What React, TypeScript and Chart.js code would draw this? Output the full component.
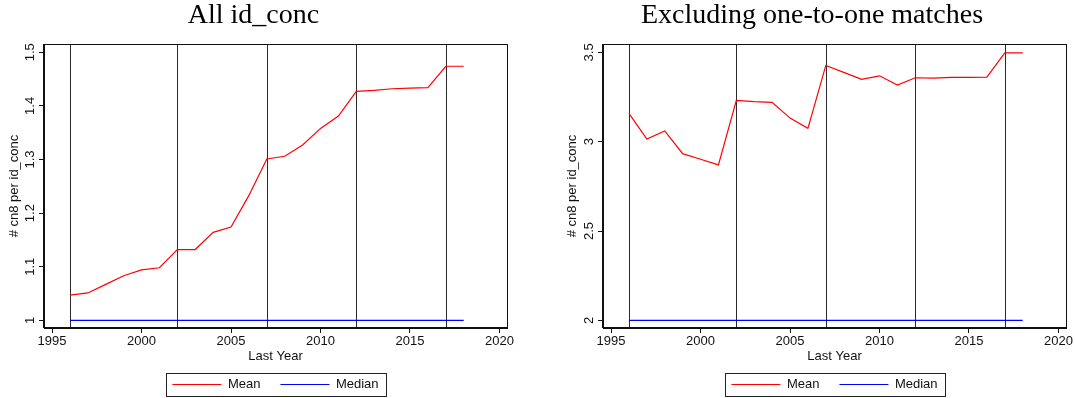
import React, { useEffect, useRef } from 'react';
import { Chart, registerables } from 'chart.js';

Chart.register(...registerables);

// ---------- data ----------
const years = [1996, 1997, 1998, 1999, 2000, 2001, 2002, 2003, 2004, 2005, 2006, 2007, 2008, 2009, 2010, 2011, 2012, 2013, 2014, 2015, 2016, 2017, 2018];

const meanAll = [1.047, 1.051, 1.067, 1.083, 1.094, 1.098, 1.132, 1.132, 1.164, 1.174, 1.233, 1.301, 1.306, 1.327, 1.358, 1.381, 1.427, 1.429, 1.432, 1.433, 1.434, 1.474, 1.474];
const medianAll = [1, 1, 1, 1, 1, 1, 1, 1, 1, 1, 1, 1, 1, 1, 1, 1, 1, 1, 1, 1, 1, 1, 1];

const meanExcl = [3.159, 3.015, 3.06, 2.933, 2.902, 2.87, 3.231, 3.224, 3.22, 3.132, 3.075, 3.427, 3.388, 3.349, 3.369, 3.317, 3.358, 3.356, 3.36, 3.36, 3.361, 3.497, 3.497];
const medianExcl = [2, 2, 2, 2, 2, 2, 2, 2, 2, 2, 2, 2, 2, 2, 2, 2, 2, 2, 2, 2, 2, 2, 2];

const refYears = [1996, 2002, 2007, 2012, 2017];

const xTickValues = [1995, 2000, 2005, 2010, 2015, 2020];
const yTicksAll = [1, 1.1, 1.2, 1.3, 1.4, 1.5];
const yTicksExcl = [2, 2.5, 3, 3.5];

const seriesNames = ['Mean', 'Median'];
const titles = ['All id_conc', 'Excluding one-to-one matches'];
const xTitle = 'Last Year';
const yTitle = '# cn8 per id_conc';

// ---------- helpers ----------
const SANS = "'Liberation Sans', Arial, Helvetica, sans-serif";
const SERIF = "'Liberation Serif', 'Times New Roman', serif";
const TXT = '#111';

const toPoints = (vals: number[]) => years.map((yr, i) => ({ x: yr, y: vals[i] }));

const framePlugin = {
  id: 'stataFrame',
  beforeDatasetsDraw(chart: any, _args: any, opts: any) {
    const { ctx, chartArea: a, scales } = chart;
    const xs = scales.x;
    ctx.save();
    ctx.lineWidth = 1;
    ctx.strokeStyle = '#2a2a2a';
    (opts.refYears || []).forEach((yr: number) => {
      const px = Math.round(xs.getPixelForValue(yr)) + 0.5;
      ctx.beginPath();
      ctx.moveTo(px, a.top);
      ctx.lineTo(px, a.bottom);
      ctx.stroke();
    });
    ctx.restore();
  },
  afterDraw(chart: any) {
    const { ctx, chartArea: a } = chart;
    ctx.save();
    ctx.lineWidth = 1;
    ctx.strokeStyle = '#111';
    ctx.strokeRect(Math.round(a.left) - 0.5, Math.round(a.top) + 0.5, Math.round(a.right - a.left) + 1, Math.round(a.bottom - a.top) - 1);
    // legend outline
    const lg = chart.legend;
    if (lg && lg.legendHitBoxes && lg.legendHitBoxes.length) {
      const hb = lg.legendHitBoxes;
      const first = hb[0];
      const last = hb[hb.length - 1];
      const l = Math.round(first.left - 6) + 0.5;
      const r = Math.round(last.left + last.width + 7) + 0.5;
      const t = Math.round(first.top - 5) + 0.5;
      const b = Math.round(first.top + first.height + 5) + 0.5;
      ctx.strokeStyle = '#222';
      ctx.strokeRect(l, t, r - l, b - t);
    }
    ctx.restore();
  },
};

interface PanelProps {
  left: number;
  width: number;
  yAxisWidth: number;
  title: string;
  mean: number[];
  median: number[];
  yMin: number;
  yMax: number;
  yTicks: number[];
}

function Panel({ left, width, yAxisWidth, title, mean, median, yMin, yMax, yTicks }: PanelProps) {
  const ref = useRef<HTMLCanvasElement | null>(null);

  useEffect(() => {
    if (!ref.current) return;
    const font = { family: SANS, size: 13 };
    const chart = new Chart(ref.current, {
      type: 'line',
      data: {
        datasets: [
          {
            label: seriesNames[0],
            data: toPoints(mean),
            borderColor: '#ff0000',
            backgroundColor: '#ff0000',
            borderWidth: 1.2,
            pointRadius: 0,
            tension: 0,
            fill: false,
          },
          {
            label: seriesNames[1],
            data: toPoints(median),
            borderColor: '#0000ff',
            backgroundColor: '#0000ff',
            borderWidth: 1.2,
            pointRadius: 0,
            tension: 0,
            fill: false,
          },
        ],
      },
      options: {
        responsive: false,
        animation: false,
        devicePixelRatio: 1,
        layout: { padding: { left: 0, right: 9, top: 0, bottom: 0 } },
        plugins: {
          title: {
            display: true,
            text: title,
            color: '#000',
            font: { family: SERIF, size: 28, weight: 'normal', lineHeight: 1 },
            padding: { top: 1.5, bottom: 14.5 },
          },
          legend: {
            display: true,
            position: 'bottom',
            fullSize: false,
            labels: {
              usePointStyle: true,
              pointStyle: 'line',
              pointStyleWidth: 49,
              padding: 20,
              color: TXT,
              font,
            },
          },
          tooltip: { enabled: false },
          stataFrame: { refYears },
        } as any,
        scales: {
          x: {
            type: 'linear',
            min: 1994.55,
            max: 2020.42,
            afterBuildTicks: (s: any) => {
              s.ticks = xTickValues.map((v) => ({ value: v }));
            },
            afterFit: (s: any) => {
              s.height = 30;
            },
            ticks: {
              autoSkip: false,
              maxRotation: 0,
              minRotation: 0,
              padding: 1,
              color: TXT,
              font,
              callback: (v: any) => String(v),
            },
            grid: { display: true, drawOnChartArea: false, drawTicks: true, tickLength: 5, color: '#111', lineWidth: 1 },
            border: { display: true, color: '#111', width: 1 },
            title: { display: true, text: xTitle, color: TXT, font, padding: { top: 0, bottom: -6 } },
          },
          y: {
            type: 'linear',
            min: yMin,
            max: yMax,
            afterBuildTicks: (s: any) => {
              s.ticks = yTicks.map((v) => ({ value: v }));
            },
            afterFit: (s: any) => {
              s.width = yAxisWidth;
            },
            ticks: {
              minRotation: 90,
              maxRotation: 90,
              crossAlign: 'center',
              padding: 0,
              color: TXT,
              font,
              callback: (v: any) => String(v),
            },
            grid: { display: true, drawOnChartArea: false, drawTicks: true, tickLength: 5, color: '#111', lineWidth: 1 },
            border: { display: true, color: '#111', width: 1 },
            title: { display: true, text: yTitle, color: TXT, font, padding: { top: 6.5, bottom: 0 } },
          },
        },
      } as any,
      plugins: [framePlugin as any],
    });
    return () => chart.destroy();
  }, []);

  return (
    <canvas
      ref={ref}
      width={width}
      height={401}
      style={{ position: 'absolute', left, top: 0, width, height: 401, display: 'block' }}
    />
  );
}

export default function App() {
  return (
    <div
      style={{
        position: 'fixed',
        left: 0,
        top: 0,
        width: 1075,
        height: 398,
        overflow: 'hidden',
        background: '#fff',
      }}
    >
      <Panel left={0} width={516} yAxisWidth={44} title={titles[0]} mean={meanAll} median={medianAll} yMin={0.9856} yMax={1.5155} yTicks={yTicksAll} />
      <Panel left={558} width={517} yAxisWidth={45} title={titles[1]} mean={meanExcl} median={medianExcl} yMin={1.957} yMax={3.547} yTicks={yTicksExcl} />
    </div>
  );
}
